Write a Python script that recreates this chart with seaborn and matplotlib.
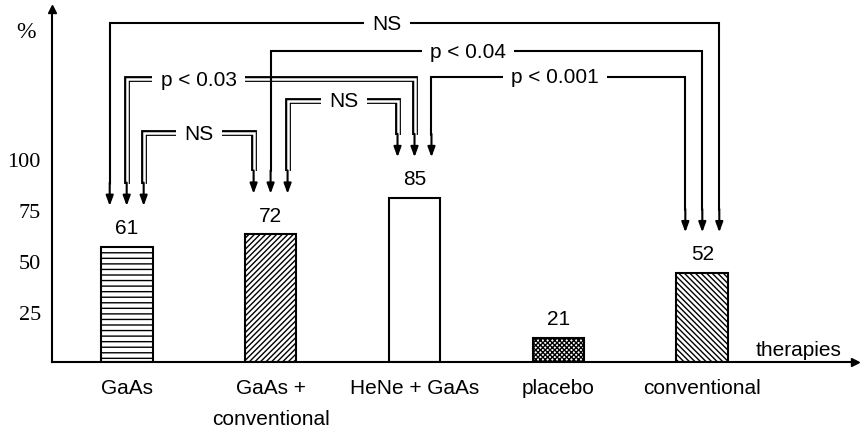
import numpy as np
import matplotlib.pyplot as plt
import seaborn as sns

# values
therapies = ['GaAs', 'GaAs +\nconventional', 'HeNe + GaAs', 'placebo', 'conventional']
bar_heights = [57, 63, 81, 12, 44]          # bar tops as drawn on the % axis
bar_labels = ['61', '72', '85', '21', '52']  # numbers printed above the bars
hatches = ['---', '//////', '', 'xxxxxxx', '\\\\\\\\\\\\']
yticks = [25, 50, 75, 100]

# (bar, arrow slot) -> (bar, arrow slot), text, bracket level, double line, text position along bracket
comparisons = [
    ((0, -1), (4, 1), 'NS', 167, False, 0.455),
    ((1, 0), (4, 0), 'p < 0.04', 153.3, False, 0.457),
    ((0, 0), (2, 0), 'p < 0.03', 139.3, True, 0.25),
    ((2, 1), (4, -1), 'p < 0.001', 140.7, False, 0.487),
    ((1, 1), (2, -1), 'NS', 128.9, True, 0.51),
    ((0, 1), (1, -1), 'NS', 112.7, True, 0.505),
]

FS = 15

sns.set_style('white')
plt.rcParams['font.family'] = ['Liberation Sans', 'DejaVu Sans']
plt.rcParams['hatch.linewidth'] = 1.0
for key in ['text.color', 'axes.edgecolor', 'xtick.color', 'ytick.color', 'axes.labelcolor']:
    plt.rcParams[key] = 'black'

fig = plt.figure(figsize=(8.6, 4.27), dpi=100)
ax = fig.add_axes([52 / 860, 1 - 363.3 / 427, (855 - 52) / 860, (363.3 - 10) / 427])

sns.barplot(x=therapies, y=bar_heights, color='white', edgecolor='black',
            linewidth=1.5, width=0.36, errorbar=None, ax=ax)
for patch, h in zip(ax.patches, hatches):
    patch.set_hatch(h)

ax.set_xlim(-0.519, 5.061)
ax.set_ylim(0, 174)
ax.set_xlabel('')
ax.set_ylabel('')

# axes with arrow ends
sns.despine(ax=ax)
for side in ['left', 'bottom']:
    ax.spines[side].set_linewidth(1.5)
    ax.spines[side].set_color('black')
ax.plot(1, 0, marker='>', color='k', ms=6, transform=ax.transAxes, clip_on=False)
ax.plot(0, 1, marker='^', color='k', ms=6, transform=ax.transAxes, clip_on=False)

ax.set_yticks(yticks)
ax.tick_params(axis='y', direction='in', length=9, width=1.5, pad=8, labelsize=16,
               colors='black')
for t in ax.get_yticklabels():
    t.set_fontfamily('Liberation Serif')

ax.set_xticks(range(len(therapies)))
ax.set_xticklabels(therapies, fontsize=FS, linespacing=1.75)
ax.tick_params(axis='x', length=0, pad=11.5, colors='black')

# numbers above bars
for i, (h, lab) in enumerate(zip(bar_heights, bar_labels)):
    ax.text(i, h + 9.5, lab, ha='center', va='center', fontsize=FS)

# significance brackets
offset = 0.118
shaft = 11
for (b1, s1), (b2, s2), text, level, double, frac in comparisons:
    x1 = b1 + s1 * offset
    x2 = b2 + s2 * offset
    t1 = bar_heights[b1] + 20
    t2 = bar_heights[b2] + 20
    xs = [x1, x1, x2, x2]
    ys = [t1 + shaft, level, level, t2 + shaft]
    if double:
        ax.plot(xs, ys, color='k', lw=4.2, solid_joinstyle='miter',
                solid_capstyle='butt', clip_on=False, zorder=2)
        ax.plot(xs, ys, color='white', lw=1.8, solid_joinstyle='miter',
                solid_capstyle='butt', clip_on=False, zorder=2)
    else:
        ax.plot(xs, ys, color='k', lw=1.5, solid_joinstyle='miter',
                clip_on=False, zorder=3)
    for x, t in ((x1, t1), (x2, t2)):
        ax.annotate('', xy=(x, t), xytext=(x, t + shaft + 0.5),
                    arrowprops=dict(arrowstyle='-|>,head_length=0.6,head_width=0.22',
                                    color='k', lw=1.5, shrinkA=0, shrinkB=0),
                    zorder=3)
    ax.text(x1 + frac * (x2 - x1), level, text, ha='center', va='center', fontsize=FS,
            bbox=dict(boxstyle='square,pad=0.4', fc='white', ec='none'), zorder=5)

ax.text(4.672, 6.5, 'therapies', ha='center', va='center', fontsize=FS)
fig.text(26 / 860, 1 - 32 / 427, '%', ha='center', va='center', fontsize=17,
         fontfamily='Liberation Serif')

fig.savefig('out.png', dpi=100)
